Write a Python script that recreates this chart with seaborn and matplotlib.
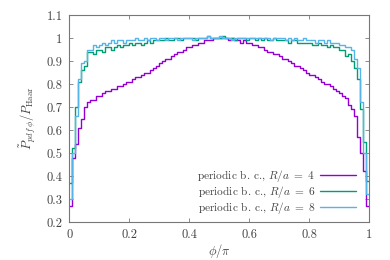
import matplotlib
matplotlib.use("Agg")
import matplotlib.pyplot as plt
import numpy as np
import pandas as pd
import seaborn as sns

# histogram values, 100 bins on phi/pi in [0, 1]
r4 = [0.27, 0.48, 0.54, 0.61, 0.65, 0.70, 0.72, 0.73, 0.73, 0.75,
      0.75, 0.76, 0.77, 0.77, 0.78, 0.78, 0.79, 0.79, 0.80, 0.81,
      0.81, 0.82, 0.83, 0.83, 0.84, 0.85, 0.85, 0.86, 0.87, 0.88,
      0.89, 0.90, 0.91, 0.91, 0.92, 0.93, 0.94, 0.94, 0.95, 0.96,
      0.96, 0.97, 0.97, 0.98, 0.98, 0.99, 0.99, 0.99, 1.00, 1.00,
      1.00, 1.00, 1.00, 0.99, 1.00, 0.99, 0.99, 0.98, 0.99, 0.98,
      0.98, 0.97, 0.97, 0.96, 0.96, 0.95, 0.94, 0.94, 0.93, 0.93,
      0.92, 0.91, 0.91, 0.90, 0.89, 0.88, 0.88, 0.87, 0.86, 0.85,
      0.84, 0.84, 0.83, 0.82, 0.81, 0.80, 0.80, 0.79, 0.78, 0.77,
      0.76, 0.75, 0.74, 0.71, 0.69, 0.66, 0.57, 0.50, 0.42, 0.27]

r6 = [0.37, 0.52, 0.70, 0.81, 0.86, 0.88, 0.94, 0.94, 0.93, 0.95,
      0.95, 0.94, 0.96, 0.96, 0.95, 0.96, 0.97, 0.96, 0.97, 0.97,
      0.98, 0.97, 0.98, 0.98, 0.97, 0.98, 0.99, 0.98, 0.99, 0.99,
      0.99, 0.99, 1.00, 0.99, 0.99, 1.00, 1.00, 0.99, 1.00, 1.00,
      1.00, 1.00, 0.99, 1.00, 1.00, 1.00, 1.01, 1.00, 1.00, 1.00,
      1.00, 1.01, 1.00, 1.00, 1.00, 0.99, 1.00, 1.00, 1.00, 0.99,
      1.00, 1.00, 0.99, 1.00, 0.99, 1.00, 0.99, 0.99, 1.00, 0.99,
      0.99, 0.99, 0.99, 0.98, 0.99, 0.99, 0.98, 0.98, 0.98, 0.98,
      0.98, 0.97, 0.97, 0.98, 0.97, 0.97, 0.96, 0.97, 0.96, 0.96,
      0.95, 0.95, 0.92, 0.93, 0.90, 0.87, 0.82, 0.69, 0.55, 0.38]

r8 = [0.30, 0.50, 0.66, 0.82, 0.89, 0.90, 0.95, 0.95, 0.97, 0.96,
      0.97, 0.98, 0.97, 0.98, 0.99, 0.98, 0.99, 0.99, 0.98, 0.99,
      0.99, 0.99, 1.00, 0.99, 0.99, 1.00, 0.99, 1.00, 1.00, 0.99,
      1.00, 1.00, 0.99, 1.00, 1.00, 1.00, 0.99, 1.00, 1.00, 1.00,
      1.00, 0.99, 1.00, 1.00, 1.00, 1.00, 1.01, 1.00, 1.00, 1.00,
      1.01, 1.00, 1.00, 1.00, 0.99, 1.00, 1.00, 1.00, 1.00, 1.00,
      1.00, 1.00, 1.00, 1.00, 1.00, 1.00, 1.00, 0.99, 1.00, 1.00,
      1.00, 1.00, 0.99, 1.00, 0.99, 1.00, 0.99, 0.99, 1.00, 0.99,
      0.99, 0.99, 0.98, 0.99, 0.99, 0.98, 0.99, 0.98, 0.98, 0.98,
      0.97, 0.97, 0.96, 0.96, 0.95, 0.91, 0.87, 0.72, 0.50, 0.32]

labels = [r"periodic b. c., $R/a\;=\;4$",
          r"periodic b. c., $R/a\;=\;6$",
          r"periodic b. c., $R/a\;=\;8$"]
colors = ["#9400d3", "#009e73", "#56b4e9"]
xticks = [0, 0.2, 0.4, 0.6, 0.8, 1]
yticks = [0.2, 0.3, 0.4, 0.5, 0.6, 0.7, 0.8, 0.9, 1.0, 1.1]

sns.set_style("ticks")
plt.rcParams["font.family"] = ["cmr10", "DejaVu Serif"]
plt.rcParams["mathtext.fontset"] = "cm"
plt.rcParams["axes.formatter.use_mathtext"] = True

nbins = len(r4)
centers = (np.arange(nbins) + 0.5) / nbins

fig = plt.figure(figsize=(3.9, 2.6), dpi=100)
ax = fig.add_axes([0.178, 0.146, 0.768, 0.796])

for vals, lab, col in zip([r4, r6, r8], labels, colors):
    df = pd.DataFrame({"phi": centers, "val": vals})
    sns.histplot(data=df, x="phi", weights="val", bins=nbins, binrange=(0, 1),
                 element="step", fill=False, color=col, lw=1.0, ax=ax,
                 label=lab)

ax.set_xlim(0, 1)
ax.set_ylim(0.2, 1.1)
ax.set_xticks(xticks)
ax.set_xticklabels(["0", "0.2", "0.4", "0.6", "0.8", "1"])
ax.set_yticks(yticks)
ax.set_yticklabels(["0.2", "0.3", "0.4", "0.5", "0.6", "0.7", "0.8", "0.9", "1", "1.1"])
ax.tick_params(direction="in", top=True, right=True, length=3, width=0.6,
               color="#777777", labelsize=9, labelcolor="#444444", pad=5)
for s in ax.spines.values():
    s.set_color("#777777")
    s.set_linewidth(0.8)

ax.set_xlabel(r"$\phi/\pi$", fontsize=9, color="#444444", labelpad=1)
ax.set_ylabel(r"$\tilde{P}_{pdf\,\phi}/P_{\rm Haar}$", fontsize=9,
              color="#444444", labelpad=6)

ax.legend(loc="lower right", frameon=False, markerfirst=False, fontsize=8.2,
          handlelength=3.1, labelspacing=0.0, borderaxespad=0.1,
          handletextpad=0.5, labelcolor="#444444",
          bbox_to_anchor=(0.975, 0.0))

fig.savefig("out.png", dpi=100)
